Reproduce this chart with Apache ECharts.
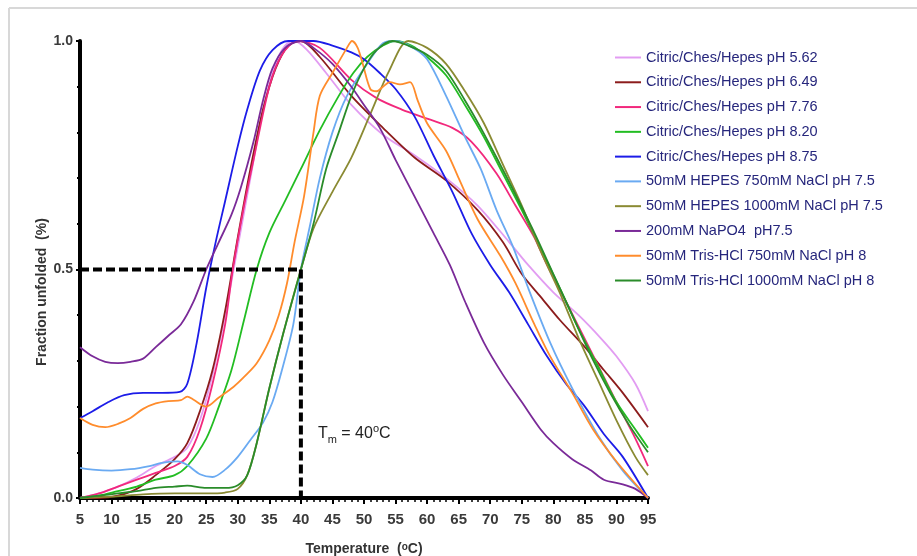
<!DOCTYPE html>
<html><head><meta charset="utf-8">
<script src="https://cdn.jsdelivr.net/npm/echarts@6/dist/echarts.min.js"></script>
<style>html,body{margin:0;padding:0;background:#fff}#c{width:917px;height:556px}</style>
</head><body><div id="c"></div>
<script>
// ---- axis ticks ----
const xMin = 5, xMax = 95, xStep = 5;
const yMin = 0, yMax = 1, yStep = 0.5;

// ---- series names ----
const seriesNames = [
  'Citric/Ches/Hepes pH 5.62',
  'Citric/Ches/Hepes pH 6.49',
  'Citric/Ches/Hepes pH 7.76',
  'Citric/Ches/Hepes pH 8.20',
  'Citric/Ches/Hepes pH 8.75',
  '50mM HEPES 750mM NaCl pH 7.5',
  '50mM HEPES 1000mM NaCl pH 7.5',
  '200mM NaPO4  pH7.5',
  '50mM Tris-HCl 750mM NaCl pH 8',
  '50mM Tris-HCl 1000mM NaCl pH 8'
];

// ---- series values [temperature, fraction] ----
const citric562 = [[5,0.0],[8,0.01],[11,0.025],[14,0.045],[17,0.07],[20,0.09],[22,0.11],[24,0.17],[26,0.27],[28,0.40],[30,0.55],[32,0.70],[34,0.85],[36,0.95],[37.5,0.99],[39,1.0],[41,0.98],[44,0.93],[48,0.86],[53,0.795],[58,0.75],[63,0.70],[68,0.64],[73,0.56],[76,0.51],[80,0.45],[84,0.40],[87.5,0.35],[90,0.31],[93,0.25],[95,0.19]];
const citric649 = [[5,0.0],[8,0.0],[11,0.005],[14,0.02],[17,0.05],[20,0.085],[22,0.12],[24,0.19],[26,0.28],[28,0.41],[30,0.57],[32,0.72],[34,0.85],[36,0.94],[38,0.99],[40,1.0],[43,0.965],[48,0.88],[53,0.81],[58,0.745],[63,0.695],[68,0.63],[72,0.56],[75,0.49],[78,0.44],[81,0.39],[85,0.33],[88,0.28],[91,0.23],[95,0.155]];
const citric776 = [[5,0.0],[8,0.01],[11,0.025],[14,0.04],[17,0.055],[20,0.07],[22,0.09],[24,0.15],[26,0.25],[28,0.38],[29.2,0.5],[31,0.64],[32.5,0.74],[35,0.9],[37,0.97],[39.5,1.0],[43,0.985],[48,0.915],[52,0.875],[56,0.85],[60,0.83],[64,0.81],[67,0.78],[71,0.71],[74,0.64],[77,0.57],[79,0.51],[82,0.43],[86,0.32],[90,0.21],[93,0.13],[95,0.07]];
const citric820 = [[5,0.0],[8,0.005],[11,0.015],[14,0.025],[17,0.04],[20,0.05],[22,0.07],[25,0.13],[27,0.2],[29,0.28],[31,0.39],[33,0.5],[35,0.58],[37.5,0.65],[40,0.72],[43,0.805],[46,0.88],[48.3,0.93],[50.5,0.965],[53,0.99],[55,1.0],[57.5,0.99],[60,0.965],[63,0.925],[66,0.86],[69,0.79],[72,0.71],[75,0.63],[78,0.545],[81,0.46],[84,0.37],[87,0.29],[90,0.21],[93,0.15],[95,0.11]];
const citric875 = [[5,0.175],[7,0.19],[9.5,0.21],[12,0.225],[15,0.23],[18,0.23],[20.8,0.232],[22,0.25],[23.5,0.34],[25,0.46],[26.5,0.56],[28,0.65],[30,0.77],[31.5,0.85],[33.5,0.935],[35.5,0.98],[38,1.0],[42,1.0],[45,0.99],[48,0.975],[50,0.96],[52.5,0.93],[55,0.895],[58,0.835],[61,0.75],[64,0.67],[67,0.58],[70,0.51],[73,0.45],[76,0.38],[79,0.31],[82,0.25],[85,0.2],[88,0.14],[91,0.09],[95,0.0]];
const hepes750 = [[5,0.066],[7,0.062],[10,0.06],[13,0.063],[16,0.07],[18,0.077],[20.5,0.08],[22,0.072],[24,0.052],[26,0.046],[28,0.062],[30,0.09],[32,0.127],[34,0.165],[35.5,0.21],[37,0.28],[38.8,0.38],[40,0.5],[41.5,0.6],[43,0.7],[45,0.8],[47.3,0.88],[50.5,0.95],[53,0.995],[55,1.0],[57.8,0.985],[60,0.96],[63,0.88],[66,0.79],[68.5,0.72],[71,0.63],[73.6,0.55],[76,0.46],[79.5,0.34],[83,0.24],[87.4,0.13],[91,0.06],[95,0.0]];
const hepes1000 = [[5,0.0],[10,0.003],[15,0.008],[20,0.01],[25,0.01],[28,0.012],[30,0.02],[31.5,0.05],[33,0.12],[35,0.24],[37.2,0.36],[40,0.5],[42,0.59],[45,0.67],[48,0.745],[51,0.84],[54,0.935],[57,1.0],[60,0.985],[63,0.95],[66,0.89],[69,0.82],[72,0.73],[75,0.64],[78,0.54],[81,0.45],[84,0.35],[87,0.26],[90,0.17],[93,0.09],[95,0.05]];
const napo4 = [[5,0.33],[7,0.31],[9,0.298],[11,0.295],[13,0.298],[15,0.305],[17,0.33],[19,0.355],[21,0.38],[23,0.43],[25,0.5],[27,0.56],[29,0.62],[30.5,0.68],[32.5,0.78],[34,0.87],[35.5,0.94],[37.5,0.985],[40,1.0],[42,0.985],[45,0.95],[48,0.9],[50,0.86],[52.5,0.81],[55,0.74],[58,0.66],[61,0.58],[63.6,0.51],[66,0.43],[69,0.34],[72,0.27],[75,0.21],[78,0.15],[80,0.12],[83,0.085],[86,0.06],[88,0.04],[91,0.03],[93,0.02],[95,0.0]];
const tris750 = [[5,0.175],[7,0.16],[9,0.155],[11,0.162],[13,0.175],[15,0.195],[17,0.207],[19,0.212],[21,0.214],[22,0.222],[23,0.215],[25,0.2],[27,0.22],[29.3,0.243],[31,0.265],[33,0.295],[35,0.345],[36.5,0.4],[37.8,0.47],[39,0.56],[40.5,0.66],[42,0.8],[43,0.88],[45,0.93],[47.3,0.985],[48.1,1.0],[49,0.985],[49.8,0.95],[51,0.895],[52,0.89],[53,0.9],[54.1,0.91],[55.7,0.905],[57.3,0.91],[58.5,0.87],[60,0.82],[63,0.76],[65,0.7],[68,0.61],[71.6,0.53],[74,0.47],[77,0.38],[79.5,0.31],[83,0.23],[86.3,0.15],[90,0.08],[95,0.0]];
const tris1000 = [[5,0.0],[8,0.005],[11,0.01],[14,0.015],[17,0.022],[20,0.025],[22,0.027],[25,0.022],[28,0.022],[30,0.028],[31.5,0.05],[33,0.12],[35,0.24],[37.2,0.36],[40,0.5],[42,0.6],[44,0.72],[46,0.8],[48,0.88],[50,0.94],[52,0.98],[54.5,1.0],[57,0.99],[60,0.97],[63,0.935],[66,0.87],[68.5,0.81],[71,0.745],[73.6,0.675],[77,0.58],[80,0.49],[83,0.4],[86,0.31],[89,0.23],[92,0.16],[95,0.1]];

// ---- Tm guide ----
const tmValue = 40;
const tmGuide = [[xMin,0.5],[tmValue,0.5],[tmValue,0]];
const tmLabelAt = [42.7, 0.14];

const allData = [citric562,citric649,citric776,citric820,citric875,hepes750,hepes1000,napo4,tris750,tris1000];
const colors = ['#e29cf2','#8c1c1c','#f2287c','#22bd22','#1c1ce8','#6aaaf2','#8a8a32','#7a2a98','#ff8c2c','#2a8c2a'];

const chart = echarts.init(document.getElementById('c'), null, {renderer:'canvas'});
const labelFont = "'Liberation Sans Narrow','Liberation Sans',Arial,sans-serif";
const textFont = "'Liberation Sans',Arial,sans-serif";

const series = allData.map((d,i)=>({
  name: seriesNames[i], type:'line', data:d, symbol:'none', smooth:0.3,
  lineStyle:{color:colors[i], width:1.8}, itemStyle:{color:colors[i]}, z:2
}));
series.push({
  name:'Tm', type:'line', data:tmGuide, symbol:'none', smooth:false,
  lineStyle:{color:'#000', width:4, type:[9,4]}, z:5, silent:true
});

chart.setOption({
  animation:false,
  backgroundColor:'#fff',
  grid:{left:80, right:269, top:41, bottom:58, containLabel:false, outerBoundsMode:'none'},
  legend:{
    data: seriesNames, orient:'vertical', left:615, top:50, padding:0,
    icon:'rect', itemWidth:26, itemHeight:2, itemGap:9.78,
    textStyle:{color:'#26267c', fontSize:14.5, fontFamily:textFont, lineHeight:14}
  },
  xAxis:{
    type:'value', min:xMin, max:xMax, interval:xStep,
    name:'Temperature  ({sup|o}C)', nameLocation:'middle', nameGap:44,
    nameTextStyle:{color:'#333', fontSize:14, fontWeight:'bold', fontFamily:textFont,
      rich:{sup:{fontSize:10, fontWeight:'bold', verticalAlign:'top', color:'#333'}}},
    axisLine:{show:true, lineStyle:{color:'#000', width:4}},
    axisTick:{show:true, length:6, lineStyle:{color:'#000', width:2}},
    minorTick:{show:true, splitNumber:5, length:4, lineStyle:{color:'#000', width:1.5}},
    axisLabel:{color:'#3a3a3a', fontSize:15, fontWeight:'bold', fontFamily:labelFont, margin:14},
    splitLine:{show:false}
  },
  yAxis:{
    type:'value', min:yMin, max:yMax, interval:yStep,
    axisLine:{show:true, lineStyle:{color:'#000', width:4}},
    axisTick:{show:true, length:4, lineStyle:{color:'#000', width:2}},
    minorTick:{show:true, splitNumber:5, length:3, lineStyle:{color:'#000', width:2}},
    axisLabel:{color:'#3a3a3a', fontSize:14, fontWeight:'bold', fontFamily:labelFont, margin:7,
      formatter:v=>v.toFixed(1)},
    splitLine:{show:false}
  },
  series: series
});

const p = chart.convertToPixel({gridIndex:0}, tmLabelAt);
chart.setOption({
  graphic:[
    {type:'line', shape:{x1:9,y1:8,x2:917,y2:8}, style:{stroke:'#d8d8d8', lineWidth:2}, silent:true},
    {type:'line', shape:{x1:9,y1:8,x2:9,y2:556}, style:{stroke:'#d8d8d8', lineWidth:2}, silent:true},
    {type:'text', x:42, y:292, rotation:Math.PI/2,
      style:{text:'Fraction unfolded  (%)', fill:'#333', font:"bold 14px 'Liberation Sans',Arial,sans-serif",
        align:'center', verticalAlign:'middle'}},
    {type:'text', x:p[0], y:p[1],
      style:{text:'{t|T}{sub|m}{t| = 40}{sup|o}{t|C}', align:'left', verticalAlign:'middle',
        rich:{
          t:{fontSize:16, fill:'#222', fontFamily:textFont, lineHeight:22},
          sub:{fontSize:11, fill:'#222', fontFamily:textFont, verticalAlign:'bottom'},
          sup:{fontSize:11, fill:'#222', fontFamily:textFont, verticalAlign:'top'}
        }}}
  ]
});
</script>
</body></html>
